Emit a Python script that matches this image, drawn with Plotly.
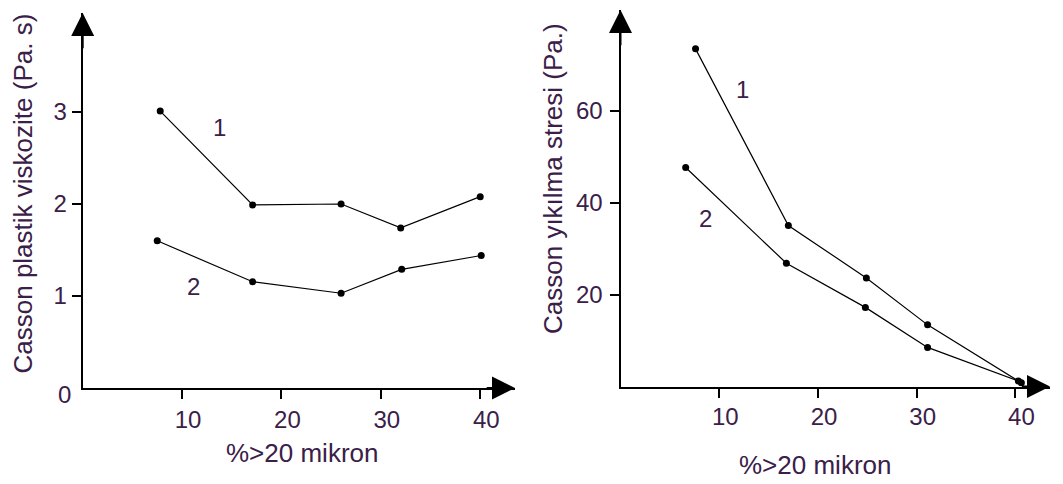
import plotly.graph_objects as go

# ---- data ----
left_x1 = [7.8, 17.1, 26.0, 32.0, 40.0]
left_y1 = [3.01, 1.99, 2.00, 1.74, 2.08]
left_x2 = [7.5, 17.1, 26.0, 32.1, 40.1]
left_y2 = [1.60, 1.155, 1.03, 1.29, 1.44]

right_x1 = [7.6, 17.0, 24.9, 31.1, 40.6]
right_y1 = [73.4, 35.0, 23.6, 13.4, 0.8]
right_x2 = [6.6, 16.8, 24.8, 31.1, 40.3]
right_y2 = [47.6, 26.8, 17.2, 8.5, 1.2]

x_ticks = [10, 20, 30, 40]
left_y_ticks = [1, 2, 3]
right_y_ticks = [20, 40, 60]

left_ytitle = "Casson plastik viskozite (Pa. s)"
right_ytitle = "Casson yıkılma stresi (Pa.)"
xtitle = "%>20 mikron"

TXT = "#3a2048"
FONT = "Liberation Sans, Arial, sans-serif"
FS = 24
FS_T = 26

W, H = 1063, 484

fig = go.Figure()

def add_series(xs, ys, xa, ya):
    fig.add_trace(go.Scatter(x=xs, y=ys, mode="lines+markers", xaxis=xa, yaxis=ya,
                             line=dict(color="black", width=1.2),
                             marker=dict(color="black", size=7),
                             showlegend=False, hoverinfo="skip"))

add_series(left_x1, left_y1, "x", "y")
add_series(left_x2, left_y2, "x", "y")
add_series(right_x1, right_y1, "x2", "y2")
add_series(right_x2, right_y2, "x2", "y2")

L_XR = [0, 43.5]
L_YR = [0, 4.076]
R_XR = [0, 43.5]
R_YR = [0, 81.85]

axis_common = dict(showgrid=False, zeroline=False, showline=True, linecolor="black",
                   linewidth=2, ticks="outside", ticklen=9, tickwidth=1.5, tickcolor="black",
                   tickfont=dict(family=FONT, size=FS, color=TXT), fixedrange=True)

fig.update_layout(
    width=W, height=H, margin=dict(l=0, r=0, t=0, b=0),
    paper_bgcolor="white", plot_bgcolor="white",
    xaxis=dict(domain=[82.7 / W, 515 / W], range=L_XR, tickvals=x_ticks,
               anchor="y", ticklabelshift=6, ticklabelstandoff=0, **axis_common),
    yaxis=dict(domain=[(H - 388) / H, (H - 13) / H], range=L_YR, tickvals=left_y_ticks,
               anchor="x", ticklabelstandoff=0, **axis_common),
    xaxis2=dict(domain=[620.5 / W, 1050 / W], range=R_XR, tickvals=x_ticks,
                anchor="y2", ticklabelshift=6, ticklabelstandoff=-1, **axis_common),
    yaxis2=dict(domain=[(H - 386.5) / H, (H - 10) / H], range=R_YR, tickvals=right_y_ticks,
                anchor="x2", ticklabelstandoff=2, **axis_common),
)

ann = []
# arrows
def arrow(xref, yref, x, y, ax, ay):
    ann.append(dict(x=x, y=y, ax=ax, ay=ay, xref=xref, yref=yref, axref=xref, ayref=yref,
                    text="", showarrow=True, arrowhead=2, arrowsize=2.3, arrowwidth=2,
                    arrowcolor="black", standoff=0))

arrow("x", "y", L_XR[1], 0, L_XR[1] - 3, 0)
arrow("x", "y", 0, L_YR[1], 0, L_YR[1] - 0.4)
arrow("x2", "y2", R_XR[1], 0, R_XR[1] - 3, 0)
arrow("x2", "y2", 0, R_YR[1], 0, R_YR[1] - 8)

def text(t, xref, yref, x, y, angle=0, size=FS):
    ann.append(dict(text=t, x=x, y=y, xref=xref, yref=yref, showarrow=False,
                    xanchor="center", yanchor="middle", textangle=angle,
                    font=dict(family=FONT, size=size, color=TXT)))

# "0" label on left chart
text("0", "paper", "paper", 64 / W, 1 - 394 / H)
# curve labels
text("1", "x", "y", 13.8, 2.83)
text("2", "x", "y", 11.1, 1.10)
text("1", "x2", "y2", 12.4, 64.5)
text("2", "x2", "y2", 8.56, 36.6)
# axis titles
text(left_ytitle, "paper", "paper", 23 / W, 1 - 193.5 / H, -90, FS_T)
text(right_ytitle, "paper", "paper", 553 / W, 1 - 179 / H, -90, FS_T)
text(xtitle, "paper", "paper", 302 / W, 1 - 453 / H, 0, FS_T)
text(xtitle, "paper", "paper", 815 / W, 1 - 465 / H, 0, FS_T)

fig.update_layout(annotations=ann)
fig.write_html("out.html")
